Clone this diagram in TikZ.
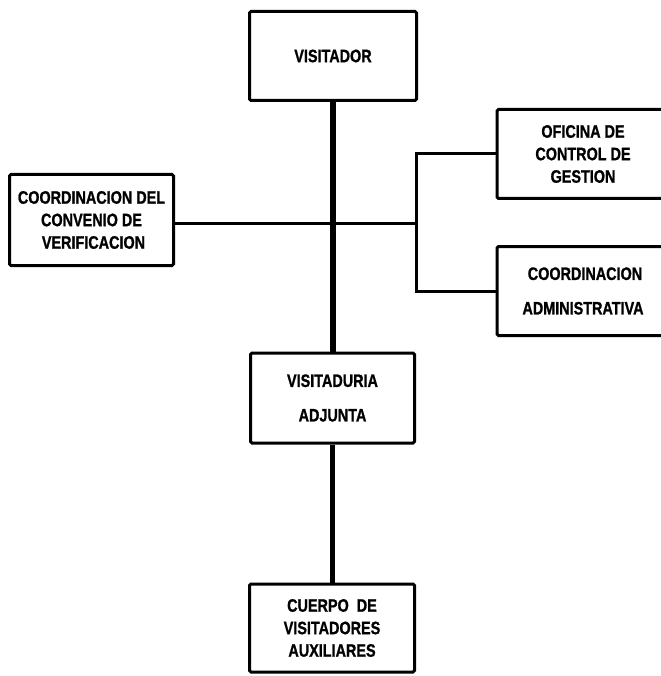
\documentclass[tikz,border=0pt]{standalone}
\usepackage{fontspec}
\newfontfamily\orgfont{Liberation Sans}[FakeStretch=0.8,FakeBold=1]
\begin{document}
\begin{tikzpicture}[x=1pt,y=1pt,
  orgbox/.style={draw, line width=3pt, rounded corners=1.5pt, align=center,
    inner sep=0pt, font=\orgfont\bfseries\fontsize{18}{22.5}\selectfont},
  mainline/.style={line width=5.5pt},
  branch/.style={line width=3pt}]
\useasboundingbox (0,0) rectangle (660,-676);
\fill[white] (0,0) rectangle (660,-676);

\node[orgbox, minimum width=167, minimum height=89] (vis) at (333,-56) {VISITADOR};
\node[orgbox, minimum width=164, minimum height=91] (conv) at (91.5,-220)
  {COORDINACION DEL\\CONVENIO DE\\\ VERIFICACION};
\node[orgbox, minimum width=172, minimum height=89] (ofi) at (583,-154)
  {OFICINA DE\\CONTROL DE\\GESTION};
\node[orgbox, minimum width=172, minimum height=89] (adm) at (583,-291)
  {\ COORDINACION\\[12pt]ADMINISTRATIVA};
\node[orgbox, minimum width=164, minimum height=90] (adj) at (332.5,-398)
  {VISITADURIA\\[12pt]ADJUNTA};
\node[orgbox, minimum width=165, minimum height=88] (cue) at (332,-628)
  {CUERPO\ \ DE\\VISITADORES\\AUXILIARES};

\coordinate (fork) at (416,-223);

\draw[mainline] (vis.south) -- (vis.south |- adj.north);
\draw[mainline] (adj.south) -- (adj.south |- cue.north);
\draw[branch] (conv.east |- fork) -- (fork);
\draw[branch] (ofi.west) -| (fork) |- (adm.west);
\end{tikzpicture}
\end{document}
